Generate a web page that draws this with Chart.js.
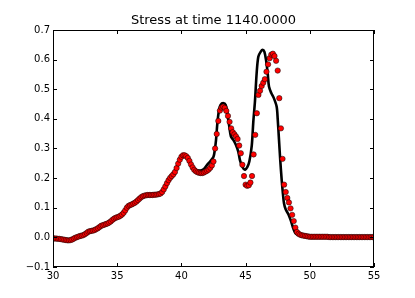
<!DOCTYPE html>
<html>
<head>
<meta charset="utf-8">
<title>Stress at time 1140.0000</title>
<script src="https://cdn.jsdelivr.net/npm/chart.js@4.4.1/dist/chart.umd.min.js"></script>
<style>
  html, body { margin: 0; padding: 0; background: #fff; }
  #chart { display: block; }
</style>
</head>
<body>
<canvas id="chart" width="415" height="298"></canvas>
<script>
// sampled stress (red dots), one value every 0.125 from x = 30 to 55
const dotStart = 30;
const dotStep = 0.125;
const dotValues = [
  -0.003, -0.004, -0.004, -0.005, -0.005, -0.006, -0.007, -0.008,
  -0.009, -0.010, -0.010, -0.009, -0.007, -0.004, -0.001, 0.001,
  0.003, 0.005, 0.006, 0.008, 0.011, 0.015, 0.019, 0.021,
  0.022, 0.023, 0.025, 0.028, 0.031, 0.035, 0.039, 0.041,
  0.043, 0.045, 0.047, 0.050, 0.054, 0.059, 0.063, 0.066,
  0.068, 0.070, 0.073, 0.077, 0.083, 0.091, 0.100, 0.106,
  0.109, 0.111, 0.114, 0.117, 0.121, 0.126, 0.131, 0.136,
  0.139, 0.141, 0.142, 0.143, 0.143, 0.143, 0.143, 0.144,
  0.144, 0.145, 0.146, 0.148, 0.153, 0.162, 0.172, 0.183,
  0.193, 0.201, 0.207, 0.213, 0.221, 0.234, 0.249, 0.262,
  0.272, 0.277, 0.277, 0.274, 0.268, 0.258, 0.246, 0.236,
  0.228, 0.223, 0.220, 0.218, 0.217, 0.217, 0.219, 0.222,
  0.225, 0.229, 0.235, 0.243, 0.256, 0.300, 0.349, 0.393,
  0.428, 0.438, 0.441, 0.437, 0.427, 0.410, 0.390, 0.368,
  0.355, 0.348, 0.341, 0.332, 0.310, 0.284, 0.245, 0.207,
  0.178, 0.174, 0.176, 0.185, 0.207, 0.280, 0.346, 0.419,
  0.481, 0.495, 0.511, 0.522, 0.534, 0.559, 0.584, 0.605,
  0.617, 0.620, 0.612, 0.596, 0.563, 0.470, 0.368, 0.265,
  0.178, 0.153, 0.133, 0.118, 0.098, 0.076, 0.055, 0.033,
  0.018, 0.012, 0.009, 0.007, 0.006, 0.005, 0.004, 0.003,
  0.002, 0.002, 0.002, 0.002, 0.002, 0.002, 0.002, 0.002,
  0.002, 0.002, 0.002, 0.002, 0.001, 0.001, 0.001, 0.001,
  0.001, 0.001, 0.001, 0.001, 0.001, 0.001, 0.001, 0.001,
  0.001, 0.001, 0.001, 0.001, 0.001, 0.001, 0.001, 0.001,
  0.001, 0.001, 0.001, 0.001, 0.001, 0.001, 0.001, 0.001,
  0.001
];

// reference curve (black line)
const lineX = [
  30, 30.5, 31, 31.25, 31.5, 31.75, 32, 32.5, 32.75, 33, 33.25, 33.5, 33.75,
  34, 34.25, 34.5, 34.75, 35, 35.25, 35.5, 35.75, 36, 36.25, 36.5, 36.75,
  37, 37.25, 37.5, 38, 38.25, 38.5, 38.75, 39, 39.25, 39.5, 39.75,
  40, 40.25, 40.5, 40.75, 41, 41.25, 41.5, 41.75, 42, 42.25, 42.5,
  42.6, 42.7, 42.8, 42.93, 43.05, 43.25, 43.45, 43.57, 43.73, 43.86,
  44.04, 44.25, 44.43, 44.56, 44.74, 44.95, 45.13, 45.29, 45.48, 45.6,
  45.73, 45.86, 45.99, 46.18, 46.33, 46.46, 46.59, 46.72, 46.82, 47,
  47.2, 47.42, 47.5, 47.6, 47.7, 47.81, 47.89, 47.99, 48.12, 48.33,
  48.51, 48.67, 48.85, 49, 49.24, 49.6, 50, 55
];
const lineY = [
  -0.003, -0.005, -0.009, -0.010, -0.007, -0.001, 0.003, 0.011, 0.019, 0.022, 0.025, 0.031, 0.039,
  0.043, 0.047, 0.054, 0.063, 0.068, 0.073, 0.083, 0.100, 0.109, 0.114, 0.121, 0.131,
  0.139, 0.142, 0.143, 0.144, 0.146, 0.153, 0.172, 0.193, 0.207, 0.221, 0.249,
  0.272, 0.278, 0.268, 0.248, 0.232, 0.226, 0.226, 0.231, 0.245, 0.257, 0.272,
  0.295, 0.330, 0.385, 0.430, 0.447, 0.453, 0.447, 0.419, 0.374, 0.340,
  0.329, 0.312, 0.289, 0.261, 0.239, 0.228, 0.237, 0.256, 0.310, 0.390,
  0.460, 0.554, 0.610, 0.627, 0.633, 0.627, 0.599, 0.554, 0.509, 0.487,
  0.470, 0.441, 0.400, 0.330, 0.260, 0.194, 0.155, 0.115, 0.095, 0.078,
  0.058, 0.036, 0.016, 0.010, 0.006, 0.003, 0.002, 0.001
];

const xTicks = [30, 35, 40, 45, 50, 55];
const yTicks = [-0.1, 0, 0.1, 0.2, 0.3, 0.4, 0.5, 0.6, 0.7];
const titleText = 'Stress at time 1140.0000';

const FONT = 'DejaVu Sans';

const dotPoints = dotValues.map((v, i) => ({ x: dotStart + i * dotStep, y: v }));
const linePoints = lineX.map((x, i) => ({ x: x, y: lineY[i] }));

// matplotlib style frame with ticks pointing inwards
const frameTicks = {
  id: 'frameTicks',
  afterDraw(chart) {
    const { ctx, chartArea: a, scales: { x, y } } = chart;
    ctx.save();
    ctx.strokeStyle = '#000';
    ctx.lineWidth = 1;
    ctx.beginPath();
    xTicks.forEach(v => {
      const px = Math.round(x.getPixelForValue(v)) + 0.5;
      ctx.moveTo(px, a.bottom); ctx.lineTo(px, a.bottom - 4);
      ctx.moveTo(px, a.top); ctx.lineTo(px, a.top + 4);
    });
    yTicks.forEach(v => {
      const py = Math.round(y.getPixelForValue(v)) + 0.5;
      ctx.moveTo(a.left, py); ctx.lineTo(a.left + 4, py);
      ctx.moveTo(a.right, py); ctx.lineTo(a.right - 4, py);
    });
    ctx.stroke();
    ctx.strokeRect(Math.round(a.left) + 0.5, Math.round(a.top) + 0.5,
      Math.round(a.right - a.left) - 1, Math.round(a.bottom - a.top) - 1);
    ctx.restore();
  }
};

new Chart(document.getElementById('chart').getContext('2d'), {
  type: 'scatter',
  data: {
    datasets: [
      {
        label: 'sampled',
        data: dotPoints,
        order: 0,
        showLine: false,
        pointRadius: 2.7,
        pointBackgroundColor: '#ff0000',
        pointBorderColor: '#000',
        pointBorderWidth: 0.5
      },
      {
        label: 'reference',
        data: linePoints,
        order: 1,
        showLine: true,
        borderColor: '#000',
        borderWidth: 2.6,
        pointRadius: 0,
        tension: 0.3,
        fill: false
      }
    ]
  },
  options: {
    responsive: false,
    animation: false,
    layout: { padding: { left: 0, right: 41, top: 0, bottom: 0 } },
    plugins: {
      legend: { display: false },
      tooltip: { enabled: false },
      title: {
        display: true,
        fullSize: false,
        text: titleText,
        color: '#000',
        font: { family: FONT, size: 13, weight: 'normal' },
        padding: { top: 13, bottom: 1.4 }
      }
    },
    scales: {
      x: {
        type: 'linear',
        min: 30,
        max: 55,
        afterBuildTicks: s => { s.ticks = xTicks.map(v => ({ value: v })); },
        afterFit: s => { s.height = 31; },
        grid: { display: false, drawTicks: false },
        border: { display: false },
        ticks: {
          color: '#000',
          font: { family: FONT, size: 10 },
          padding: 3,
          maxRotation: 0,
          callback: v => String(v)
        }
      },
      y: {
        type: 'linear',
        min: -0.1,
        max: 0.7,
        afterBuildTicks: s => { s.ticks = yTicks.map(v => ({ value: v })); },
        afterFit: s => { s.width = 53; },
        grid: { display: false, drawTicks: false },
        border: { display: false },
        ticks: {
          color: '#000',
          font: { family: FONT, size: 10 },
          padding: 3,
          callback: v => (v < -1e-9 ? '\u2212' : '') + Math.abs(v).toFixed(1)
        }
      }
    }
  },
  plugins: [frameTicks]
});
</script>
</body>
</html>
